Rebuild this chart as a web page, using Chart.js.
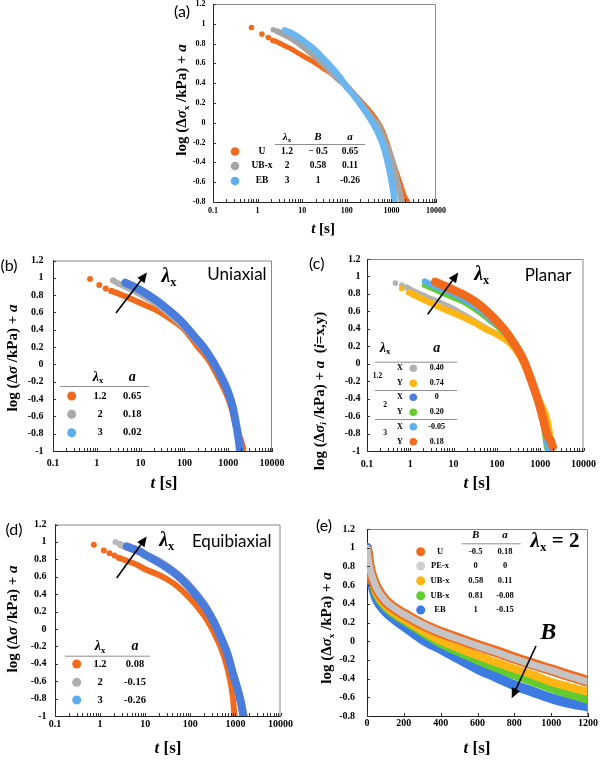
<!DOCTYPE html>
<html><head><meta charset="utf-8">
<script src="https://cdn.jsdelivr.net/npm/chart.js@4.4.0/dist/chart.umd.min.js"></script>
<style>
html,body{margin:0;padding:0;background:#fff;}
body{width:600px;height:762px;position:relative;overflow:hidden;}
canvas{position:absolute;}
</style></head><body>
<canvas id="ca"></canvas><canvas id="cb"></canvas><canvas id="cc"></canvas><canvas id="cd"></canvas><canvas id="ce"></canvas>
<script>
// ---------- tick labels ----------
const xTicksLog = [0.1, 1, 10, 100, 1000, 10000];
const xTicksLin = [0, 200, 400, 600, 800, 1000, 1200];
const yTicksA = [-0.8, -0.6, -0.4, -0.2, 0, 0.2, 0.4, 0.6, 0.8, 1, 1.2];
const yTicksB = [-1, -0.8, -0.6, -0.4, -0.2, 0, 0.2, 0.4, 0.6, 0.8, 1, 1.2];

// ---------- panel (a) ----------
const aU_t   = [0.73, 1.25, 1.74, 2.21, 2.58, 3.64, 6.1, 10.2, 17.2, 28.8, 48.3, 68.2, 96, 136, 192, 271, 382, 495, 641, 830, 986, 1172, 1393, 1655, 1965, 2336];
const aU_y   = [0.963, 0.896, 0.862, 0.832, 0.822, 0.788, 0.738, 0.677, 0.62, 0.553, 0.486, 0.425, 0.385, 0.31, 0.235, 0.16, 0.08, 0.01, -0.085, -0.225, -0.335, -0.44, -0.54, -0.64, -0.74, -0.8];
const aUBx_t = [2.25, 2.81, 3.64, 6.1, 10.2, 17.2, 28.8, 48.3, 68.2, 96, 136, 192, 271, 382, 470, 540, 762, 1080, 1277, 1517, 1713];
const aUBx_y = [0.94, 0.923, 0.899, 0.845, 0.771, 0.687, 0.597, 0.496, 0.43, 0.375, 0.3, 0.215, 0.125, 0.035, 0.0, -0.05, -0.22, -0.40, -0.55, -0.69, -0.8];
const aEB_t  = [4.11, 5.14, 7.26, 10.2, 17.2, 28.8, 48.3, 68.2, 96, 136, 192, 271, 382, 495, 641, 830, 986, 1112, 1192];
const aEB_y  = [0.933, 0.916, 0.879, 0.832, 0.755, 0.654, 0.546, 0.465, 0.37, 0.29, 0.2, 0.105, 0.0, -0.095, -0.215, -0.4, -0.56, -0.7, -0.8];
const aLegName = ['U', 'UB-x', 'EB'];
const aLegLam  = ['1.2', '2', '3'];
const aLegB    = ['\u2212 0.5', '0.58', '1'];
const aLegA    = ['0.65', '0.11', '-0.26'];

// ---------- panel (b) uniaxial ----------
const b12_t = [0.70, 1.14, 1.6, 2.15, 3.18, 6.3, 12.5, 24.9, 49.4, 98, 194, 386, 645, 909, 1175, 1394, 1656, 1965, 2214];
const b12_y = [0.985, 0.916, 0.878, 0.848, 0.817, 0.752, 0.687, 0.618, 0.522, 0.407, 0.215, 0.024, -0.187, -0.34, -0.493, -0.647, -0.78, -0.877, -0.972];
const b2_t  = [2.36, 2.9, 3.8, 5.3, 7.5, 10.6, 21, 41.6, 82.6, 164, 275, 460, 703, 993, 1273, 1506, 1740, 1900];
const b2_y  = [0.97, 0.943, 0.913, 0.878, 0.84, 0.798, 0.713, 0.598, 0.464, 0.303, 0.169, 0.005, -0.168, -0.34, -0.51, -0.685, -0.857, -0.99];
const b3_t  = [4.47, 6.3, 10.6, 21, 41.6, 82.6, 164, 275, 460, 703, 993, 1273, 1506, 1700, 1860];
const b3_y  = [0.943, 0.909, 0.848, 0.752, 0.637, 0.503, 0.33, 0.196, 0.024, -0.149, -0.321, -0.494, -0.685, -0.838, -0.99];
const bLegLam = ['1.2', '2', '3'];
const bLegA   = ['0.65', '0.18', '0.02'];

// ---------- panel (c) planar ----------
const c12X_t = [0.453, 0.641, 0.83, 1.12, 1.88, 3.16, 5.33, 8.98, 15.1, 25.5, 42.9, 72.1, 121, 205, 345, 580, 820, 1064, 1267, 1430, 1530];
const c12X_y = [0.924, 0.901, 0.874, 0.836, 0.786, 0.74, 0.69, 0.64, 0.575, 0.51, 0.44, 0.375, 0.32, 0.24, 0.09, -0.15, -0.37, -0.56, -0.72, -0.89, -1.0];
const c12Y_t = [0.63, 0.94, 1.58, 3.16, 5.33, 10, 18, 30.5, 51, 100, 205, 345, 580, 820, 1064, 1380, 1640, 1800];
const c12Y_y = [0.863, 0.817, 0.76, 0.69, 0.637, 0.58, 0.525, 0.47, 0.405, 0.335, 0.23, 0.08, -0.15, -0.34, -0.47, -0.6, -0.78, -0.98];
const c2X_t  = [2.66, 5.33, 10, 18, 36, 72, 145, 290, 485, 750, 1064, 1330, 1530];
const c2X_y  = [0.913, 0.836, 0.78, 0.713, 0.62, 0.5, 0.37, 0.16, -0.04, -0.29, -0.543, -0.79, -1.0];
const c2Y_t  = [2.16, 3.16, 5.33, 10, 18, 36, 72, 145, 290, 485, 750, 1064, 1267, 1430];
const c2Y_y  = [0.901, 0.867, 0.817, 0.76, 0.702, 0.606, 0.491, 0.36, 0.16, -0.04, -0.28, -0.543, -0.773, -0.965];
const c3X_t  = [2.16, 3.16, 5.33, 10, 18, 36, 72, 145, 290, 485, 750, 1064, 1330, 1530];
const c3X_y  = [0.943, 0.901, 0.855, 0.798, 0.729, 0.637, 0.51, 0.37, 0.16, -0.045, -0.28, -0.543, -0.773, -1.0];
const c3Y_t  = [3.77, 4.9, 6.9, 10, 18, 36, 72, 145, 242, 405, 629, 900, 1150, 1330, 1530, 1750, 1950];
const c3Y_y  = [0.939, 0.913, 0.882, 0.844, 0.786, 0.69, 0.56, 0.395, 0.242, 0.05, -0.198, -0.428, -0.62, -0.75, -0.84, -0.88, -0.95];
const cLegGroup = ['1.2', '2', '3'];
const cLegDir   = ['X', 'Y', 'X', 'Y', 'X', 'Y'];
const cLegA     = ['0.40', '0.74', '0', '0.20', '-0.05', '0.18'];

// ---------- panel (d) equibiaxial ----------
const d12_t = [0.726, 1.21, 1.62, 2.08, 2.6, 3.78, 6.3, 10.5, 17.5, 29.2, 48.6, 81, 135, 225, 344, 484, 624, 765, 877, 955];
const d12_y = [0.967, 0.902, 0.871, 0.845, 0.818, 0.787, 0.742, 0.68, 0.635, 0.577, 0.501, 0.398, 0.272, 0.119, -0.053, -0.225, -0.397, -0.588, -0.779, -1.0];
const d2_t  = [2.19, 2.8, 3.5, 5.4, 10.5, 29.2, 81, 225, 484, 877, 1200, 1580];
const d2_y  = [0.998, 0.971, 0.948, 0.913, 0.852, 0.73, 0.539, 0.253, -0.09, -0.492, -0.779, -1.0];
const d3_t  = [3.92, 5.4, 7.5, 10.5, 17.5, 29.2, 48.6, 81, 135, 225, 344, 484, 680, 877, 1133, 1343, 1500];
const d3_y  = [0.948, 0.921, 0.891, 0.845, 0.78, 0.711, 0.627, 0.52, 0.386, 0.234, 0.062, -0.11, -0.301, -0.511, -0.702, -0.855, -1.0];
const dLegLam = ['1.2', '2', '3'];
const dLegA   = ['0.08', '-0.15', '-0.26'];

// ---------- panel (e) lambda_x = 2, linear time ----------
const e_t    = [0, 3, 8, 15, 25, 50, 100, 150, 200, 300, 400, 500, 600, 700, 800, 900, 1000, 1100, 1200];
const eU_y   = [0.97, 0.93, 0.85, 0.77, 0.7, 0.575, 0.43, 0.35, 0.29, 0.18, 0.095, 0.025, -0.045, -0.11, -0.18, -0.245, -0.305, -0.37, -0.43];
const ePE_y  = [0.99, 0.94, 0.86, 0.78, 0.71, 0.575, 0.43, 0.35, 0.288, 0.18, 0.093, 0.02, -0.05, -0.115, -0.185, -0.25, -0.31, -0.375, -0.435];
const eUB1_y = [0.96, 0.92, 0.83, 0.75, 0.68, 0.525, 0.38, 0.3, 0.235, 0.115, 0.005, -0.075, -0.153, -0.225, -0.294, -0.36, -0.434, -0.49, -0.54];
const eUB2_y = [0.95, 0.9, 0.82, 0.73, 0.66, 0.5, 0.36, 0.28, 0.216, 0.09, -0.03, -0.12, -0.206, -0.285, -0.364, -0.435, -0.505, -0.57, -0.628];
const eEB_y  = [1.0, 0.9, 0.8, 0.71, 0.63, 0.465, 0.32, 0.235, 0.163, 0.022, -0.083, -0.188, -0.294, -0.382, -0.47, -0.54, -0.61, -0.663, -0.698];
const eLegName = ['U', 'PE-x', 'UB-x', 'UB-x', 'EB'];
const eLegB    = ['-0.5', '0', '0.58', '0.81', '1'];
const eLegA    = ['0.18', '0', '0.11', '-0.08', '-0.15'];

// ---------- styling ----------
const OR = '#F26B1D', LB = '#5DAEEC', RB = '#4A7CDC', YE = '#FFB614', GN = '#62CC2E', EBB = '#3B7BE2';
const SERF = '"Liberation Serif","DejaVu Serif",serif';
const SANF = 'Lato,"Liberation Sans",sans-serif';
const F = (st, sz) => `${st} ${sz}px ${SERF}`;
const S = (sz) => `${sz}px ${SANF}`;

function rich(ctx, x, y, parts, align, rot) {
  ctx.save(); ctx.translate(x, y); if (rot) ctx.rotate(rot);
  ctx.textBaseline = 'middle'; ctx.textAlign = 'left';
  let w = 0; parts.forEach(p => { ctx.font = p[1]; w += ctx.measureText(p[0]).width; });
  let cx = align === 'left' ? 0 : align === 'right' ? -w : -w / 2;
  parts.forEach(p => { ctx.font = p[1]; ctx.fillStyle = p[3] || '#000'; ctx.fillText(p[0], cx, p[2] || 0); cx += ctx.measureText(p[0]).width; });
  ctx.restore();
}
function dot(ctx, x, y, r, c) { ctx.beginPath(); ctx.arc(x, y, r, 0, Math.PI * 2); ctx.fillStyle = c; ctx.fill(); }
function hline(ctx, x0, x1, y) { ctx.save(); ctx.strokeStyle = '#8f8f8f'; ctx.lineWidth = 1; ctx.beginPath(); ctx.moveTo(x0, y + 0.5); ctx.lineTo(x1, y + 0.5); ctx.stroke(); ctx.restore(); }
function arrow(ctx, x0, y0, x1, y1, lw, hl, hw) {
  const a = Math.atan2(y1 - y0, x1 - x0), c = Math.cos(a), s = Math.sin(a);
  ctx.save(); ctx.strokeStyle = '#000'; ctx.fillStyle = '#000'; ctx.lineWidth = lw;
  ctx.beginPath(); ctx.moveTo(x0, y0); ctx.lineTo(x1 - hl * 0.7 * c, y1 - hl * 0.7 * s); ctx.stroke();
  ctx.beginPath(); ctx.moveTo(x1, y1);
  ctx.lineTo(x1 - hl * c + hw * s, y1 - hl * s - hw * c);
  ctx.lineTo(x1 - hl * c - hw * s, y1 - hl * s + hw * c);
  ctx.closePath(); ctx.fill(); ctx.restore();
}
const yTitleSub = (sub, sz) => [['log (\u0394', F('bold', sz)], ['\u03c3', F('bold italic', sz)], [sub, F('bold', sz * 0.6), sz * 0.28], [' /kPa) + ', F('bold', sz)], ['a', F('bold italic', sz)]];
const yTitlePlain = (sz) => [['log (\u0394', F('bold', sz)], ['\u03c3', F('bold italic', sz)], [' /kPa) + ', F('bold', sz)], ['a', F('bold italic', sz)]];
const tTitle = (sz) => [['t', F('bold italic', sz)], [' [s]', F('bold', sz)]];
const lamX = (sz) => [['\u03bb', F('bold italic', sz)], ['x', F('bold', sz * 0.62), sz * 0.27]];

const minorLog = [];
for (let e = -1; e <= 3; e++) for (let m = 1; m <= 9; m++) minorLog.push(+(m * Math.pow(10, e)).toPrecision(3));
minorLog.push(10000);

function series(t, y, color, bw, r, k, order) { return {t, y, color, bw, r, k, order}; }

function build(P) {
  const cv = document.getElementById(P.id);
  const padT = 14, padR = 14;
  const left = P.L - P.W, top = P.T - padT;
  cv.width = P.R + padR - left; cv.height = P.B + P.H - top;
  cv.style.left = left + 'px'; cv.style.top = top + 'px';
  cv.style.width = cv.width + 'px'; cv.style.height = cv.height + 'px';
  const datasets = P.sets.map(s => ({
    data: s.t.map((v, i) => ({x: v, y: s.y[i]})),
    showLine: true, borderColor: s.color, backgroundColor: s.color, borderWidth: s.bw,
    pointRadius: c => c.dataIndex < s.k ? s.r : 0, pointBorderWidth: 0, pointHoverRadius: 0, pointHitRadius: 0,
    borderCapStyle: 'round', borderJoinStyle: 'round', cubicInterpolationMode: 'monotone',
    segment: {borderColor: c => c.p0DataIndex < s.k - 1 ? 'rgba(0,0,0,0)' : s.color},
    order: s.order
  }));
  const tf = {family: SERF, size: P.tick, weight: 'bold'};
  new Chart(cv, {
    type: 'scatter',
    data: {datasets},
    options: {
      responsive: false, animation: false, devicePixelRatio: 1, events: [],
      layout: {padding: {left: 0, top: padT, right: padR, bottom: 0}},
      plugins: {legend: {display: false}, tooltip: {enabled: false}},
      scales: {
        x: {type: P.xType, min: P.xMin, max: P.xMax, position: 'bottom',
          afterBuildTicks: s => { s.ticks = P.xTicks.map(v => ({value: v})); },
          afterFit: s => { s.height = P.H; },
          ticks: {autoSkip: false, maxRotation: 0, minRotation: 0, font: tf, color: '#000', padding: P.xPad, callback: v => String(v)},
          grid: {display: false, drawTicks: false},
          border: {display: true, color: '#222', width: 1},
          title: {display: false}},
        y: {type: 'linear', min: P.yMin, max: P.yMax, position: 'left',
          afterBuildTicks: s => { s.ticks = P.yTicks.map(v => ({value: v})); },
          afterFit: s => { s.width = P.W; },
          ticks: {font: tf, color: '#000', padding: P.yPad, callback: v => String(+v.toFixed(1))},
          grid: {display: false, drawTicks: false},
          border: {display: true, color: '#222', width: 1},
          title: {display: false}}
      }
    },
    plugins: [{id: 'deco', afterDraw(chart) {
      const ctx = chart.ctx, a = chart.chartArea, xs = chart.scales.x, ys = chart.scales.y;
      ctx.save();
      ctx.strokeStyle = '#8a8a8a'; ctx.lineWidth = 1;
      ctx.beginPath(); ctx.moveTo(a.left, a.top + 0.5); ctx.lineTo(a.right - 0.5, a.top + 0.5); ctx.lineTo(a.right - 0.5, a.bottom); ctx.stroke();
      ctx.strokeStyle = '#333'; ctx.beginPath();
      P.xMarks.forEach(v => { const px = Math.round(xs.getPixelForValue(v)) + 0.5; ctx.moveTo(px, a.bottom); ctx.lineTo(px, a.bottom - 3); });
      P.yTicks.forEach(v => { const py = Math.round(ys.getPixelForValue(v)) + 0.5; ctx.moveTo(a.left, py); ctx.lineTo(a.left + 3, py); });
      ctx.stroke(); ctx.restore();
      ctx.save(); ctx.translate(-left, -top); P.draw(ctx); ctx.restore();
    }}]
  });
}

// ---------- (a) ----------
build({id: 'ca', L: 213, T: 4, R: 436, B: 202, W: 45, H: 38, tick: 8, xPad: 4, yPad: 7.5,
  xType: 'logarithmic', xMin: 0.1, xMax: 10000, xTicks: xTicksLog, xMarks: minorLog,
  yMin: -0.8, yMax: 1.2, yTicks: yTicksA,
  sets: [series(aU_t, aU_y, OR, 5, 2.8, 4, 3), series(aUBx_t, aUBx_y, '#A5A5A5', 6, 2.8, 2, 2), series(aEB_t, aEB_y, '#6BB6EE', 6.5, 3, 1, 1)],
  draw(ctx) {
    rich(ctx, 182, 12, [['(a)', S(16)]]);
    rich(ctx, 182, 100, yTitleSub('x', 15), 'center', -Math.PI / 2);
    rich(ctx, 323, 229, tTitle(15));
    rich(ctx, 287, 137, lamX(11)); rich(ctx, 318, 137, [['B', F('bold italic', 11)]]); rich(ctx, 350, 137, [['a', F('bold italic', 11)]]);
    hline(ctx, 275, 365, 144);
    const ys = [151.5, 166, 181], cols = [OR, '#A5A5A5', LB];
    ys.forEach((y, i) => {
      dot(ctx, 235, y, 4.3, cols[i]);
      rich(ctx, 262, y, [[aLegName[i], F('bold', 9.5)]]);
      rich(ctx, 287, y, [[aLegLam[i], F('bold', 9.5)]]);
      rich(ctx, 318, y, [[aLegB[i], F('bold', 9.5)]]);
      rich(ctx, 350, y, [[aLegA[i], F('bold', 9.5)]]);
    });
  }});

// ---------- (b) ----------
build({id: 'cb', L: 53, T: 259, R: 277, B: 451, W: 53, H: 44, tick: 10, xPad: 6.5, yPad: 9.5,
  xType: 'logarithmic', xMin: 0.1, xMax: 10000, xTicks: xTicksLog, xMarks: minorLog,
  yMin: -1, yMax: 1.2, yTicks: yTicksB,
  sets: [series(b12_t, b12_y, OR, 6, 3, 4, 3), series(b2_t, b2_y, '#B0B0B0', 6, 3, 1, 2), series(b3_t, b3_y, RB, 8, 3, 1, 1)],
  draw(ctx) {
    rich(ctx, 9, 265.5, [['(b)', S(16)]]);
    rich(ctx, 13, 358, yTitlePlain(15), 'center', -Math.PI / 2);
    rich(ctx, 164, 484, tTitle(17));
    arrow(ctx, 116, 313, 147, 272.5, 1.6, 10, 4.5);
    rich(ctx, 169, 277, lamX(20));
    rich(ctx, 237, 275, [['Uniaxial', S(17)]]);
    rich(ctx, 98, 377, lamX(14)); rich(ctx, 132.3, 377, [['a', F('bold italic', 14)]]);
    hline(ctx, 60, 149, 386);
    const ys = [396, 414.3, 432.7], cols = [OR, '#A9A9A9', LB];
    ys.forEach((y, i) => {
      dot(ctx, 71.7, y, 4.5, cols[i]);
      rich(ctx, 100, y, [[bLegLam[i], F('bold', 10.5)]]);
      rich(ctx, 132.3, y, [[bLegA[i], F('bold', 10.5)]]);
    });
  }});

// ---------- (c) ----------
build({id: 'cc', L: 367, T: 259, R: 589, B: 451, W: 59, H: 44, tick: 10, xPad: 7, yPad: 6.5,
  xType: 'logarithmic', xMin: 0.1, xMax: 10000, xTicks: xTicksLog, xMarks: minorLog,
  yMin: -1, yMax: 1.2, yTicks: yTicksB,
  sets: [series(c12X_t, c12X_y, '#B3B3B3', 6, 2.8, 3, 6), series(c12Y_t, c12Y_y, YE, 6.5, 2.8, 2, 5),
         series(c2X_t, c2X_y, RB, 6, 2.8, 1, 4), series(c2Y_t, c2Y_y, GN, 6, 2.8, 1, 3),
         series(c3X_t, c3X_y, LB, 6, 2.8, 1, 2), series(c3Y_t, c3Y_y, OR, 8.5, 3, 1, 1)],
  draw(ctx) {
    rich(ctx, 316.7, 264, [['(c)', S(16)]]);
    rich(ctx, 320, 391, [['log (\u0394', F('bold', 15)], ['\u03c3', F('bold italic', 15)], ['i', F('bold italic', 9), 4], [' /kPa) + ', F('bold', 15)], ['a', F('bold italic', 15)], ['  (', F('bold', 15)], ['i', F('bold italic', 15)], ['=x,y)', F('bold', 15)]], 'center', -Math.PI / 2);
    rich(ctx, 477, 484, tTitle(17));
    arrow(ctx, 427.7, 314.3, 458.3, 272.5, 1.6, 10, 4.5);
    rich(ctx, 481.7, 275, lamX(20));
    rich(ctx, 548, 276, [['Planar', S(17)]]);
    rich(ctx, 385, 348, lamX(14)); rich(ctx, 436.7, 348, [['a', F('bold italic', 14)]]);
    hline(ctx, 375, 457, 361.7); hline(ctx, 375, 457, 390); hline(ctx, 375, 457, 419);
    rich(ctx, 377.5, 376, [[cLegGroup[0], F('bold', 7.5)]]);
    rich(ctx, 385, 405, [[cLegGroup[1], F('bold', 7.5)]]);
    rich(ctx, 385, 433.5, [[cLegGroup[2], F('bold', 7.5)]]);
    const ys = [368.3, 383.3, 397.3, 412.3, 426.7, 441.7], cols = ['#B3B3B3', YE, RB, GN, LB, OR];
    ys.forEach((y, i) => {
      rich(ctx, 400, y, [[cLegDir[i], F('bold', 8)]]);
      dot(ctx, 413.3, y, 3.8, cols[i]);
      rich(ctx, 436.7, y, [[cLegA[i], F('bold', 8)]]);
    });
  }});

// ---------- (d) ----------
build({id: 'cd', L: 55, T: 524, R: 281, B: 716, W: 55, H: 46, tick: 10, xPad: 2, yPad: 8.5,
  xType: 'logarithmic', xMin: 0.1, xMax: 10000, xTicks: xTicksLog, xMarks: minorLog,
  yMin: -1, yMax: 1.2, yTicks: yTicksB,
  sets: [series(d12_t, d12_y, OR, 6, 3, 5, 3), series(d2_t, d2_y, '#B8B8B8', 7, 3, 2, 2), series(d3_t, d3_y, RB, 8, 3, 1, 1)],
  draw(ctx) {
    rich(ctx, 14, 530, [['(d)', S(16)]]);
    rich(ctx, 13.5, 619, yTitlePlain(15), 'center', -Math.PI / 2);
    rich(ctx, 168, 749, tTitle(17));
    arrow(ctx, 116.7, 578, 146.7, 536.5, 1.6, 10, 4.5);
    rich(ctx, 166.7, 541, lamX(20));
    rich(ctx, 231.7, 541.7, [['Equibiaxial', S(17)]]);
    rich(ctx, 100, 646.7, lamX(14)); rich(ctx, 135, 646.7, [['a', F('bold italic', 14)]]);
    hline(ctx, 65, 150, 655.7);
    const ys = [664, 682.3, 700], cols = [OR, '#B0B0B0', LB];
    ys.forEach((y, i) => {
      dot(ctx, 76.7, y, 4.5, cols[i]);
      rich(ctx, 100, y, [[dLegLam[i], F('bold', 10.5)]]);
      rich(ctx, 135, y, [[dLegA[i], F('bold', 10.5)]]);
    });
  }});

// ---------- (e) ----------
build({id: 'ce', L: 367, T: 525, R: 588, B: 716, W: 53, H: 46, tick: 10, xPad: 1, yPad: 12,
  xType: 'linear', xMin: 0, xMax: 1200, xTicks: xTicksLin, xMarks: xTicksLin,
  yMin: -0.8, yMax: 1.2, yTicks: yTicksA,
  sets: [series(e_t, eEB_y, EBB, 10, 4, 1, 5), series(e_t, eUB2_y, GN, 8, 4, 1, 4), series(e_t, eUB1_y, YE, 8, 4, 1, 3),
         series(e_t, eU_y, OR, 11, 4, 1, 2), series(e_t, ePE_y, '#C4C4C4', 7, 3.5, 1, 1)],
  draw(ctx) {
    rich(ctx, 324, 526, [['(e)', S(16)]]);
    rich(ctx, 327, 628, yTitleSub('x', 15), 'center', -Math.PI / 2);
    rich(ctx, 477, 749, tTitle(17));
    rich(ctx, 555, 541.7, [['\u03bb', F('bold italic', 21)], ['x', F('bold', 13), 5.5], [' = 2', F('bold', 21)]]);
    rich(ctx, 548.3, 633, [['B', F('bold italic', 24)]]);
    arrow(ctx, 536, 646, 511.7, 698.3, 1.6, 10, 4.5);
    rich(ctx, 475.7, 535, [['B', F('bold italic', 11)]]); rich(ctx, 505, 535, [['a', F('bold italic', 11)]]);
    hline(ctx, 461.7, 520.7, 543.3);
    const ys = [551.7, 566, 580.7, 595.7, 610], cols = [OR, '#D0D0D0', YE, GN, EBB];
    ys.forEach((y, i) => {
      dot(ctx, 420.7, y, 4.5, cols[i]);
      rich(ctx, 440, y, [[eLegName[i], F('bold', 8.5)]]);
      rich(ctx, 475.7, y, [[eLegB[i], F('bold', 8.5)]]);
      rich(ctx, 505, y, [[eLegA[i], F('bold', 8.5)]]);
    });
  }});
</script></body></html>
